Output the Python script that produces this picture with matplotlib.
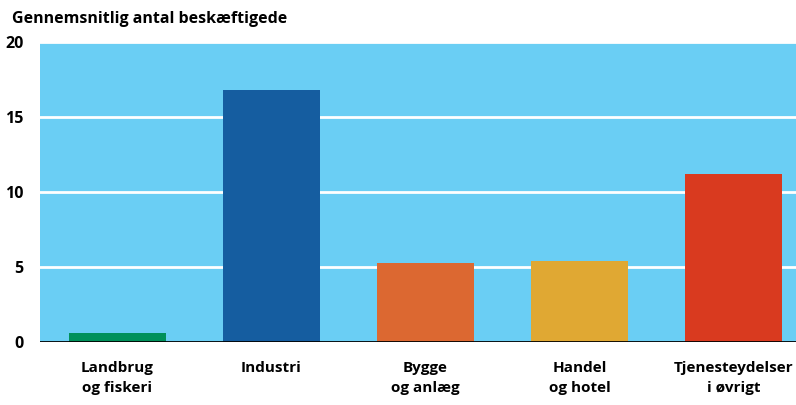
import matplotlib.pyplot as plt
import numpy as np

categories = ['Landbrug\nog fiskeri', 'Industri', 'Bygge\nog anlæg', 'Handel\nog hotel', 'Tjenesteydelser\ni øvrigt']
values = [0.6, 16.8, 5.3, 5.4, 11.2]
colors = ['#00905A', '#155DA0', '#DC6831', '#E0A833', '#D93A1F']
yticks = [0, 5, 10, 15, 20]

plt.rcParams['font.family'] = ['Open Sans', 'DejaVu Sans']

fig = plt.figure(figsize=(7.96, 4.05), dpi=100)
ax = fig.add_axes([0.0503, 0.1556, 0.9497, 0.7404])
ax.set_facecolor('#6ACEF4')

x = np.arange(len(categories))
for yv in yticks[1:]:
    ax.axhline(yv, color='white', linewidth=2, zorder=1, clip_on=False)
ax.bar(x, values, width=0.63, color=colors, zorder=2)
ax.axhline(0, color='black', linewidth=2, zorder=3)

ax.set_xlim(-0.503, 4.406)
ax.set_ylim(0, 20)
ax.set_yticks(yticks)
ax.set_yticklabels([str(t) for t in yticks], fontsize=11.5, fontweight='bold')
ax.set_xticks(x)
ax.set_xticklabels(categories, fontsize=11, fontweight='bold', linespacing=1.55)
ax.tick_params(axis='both', length=0)
ax.tick_params(axis='x', pad=14)
ax.tick_params(axis='y', pad=12)
for s in ax.spines.values():
    s.set_visible(False)

fig.text(0.015, 0.952, 'Gennemsnitlig antal beskæftigede', fontsize=11.5,
         fontweight='bold', ha='left', va='center')

fig.savefig('out.png', dpi=100)
